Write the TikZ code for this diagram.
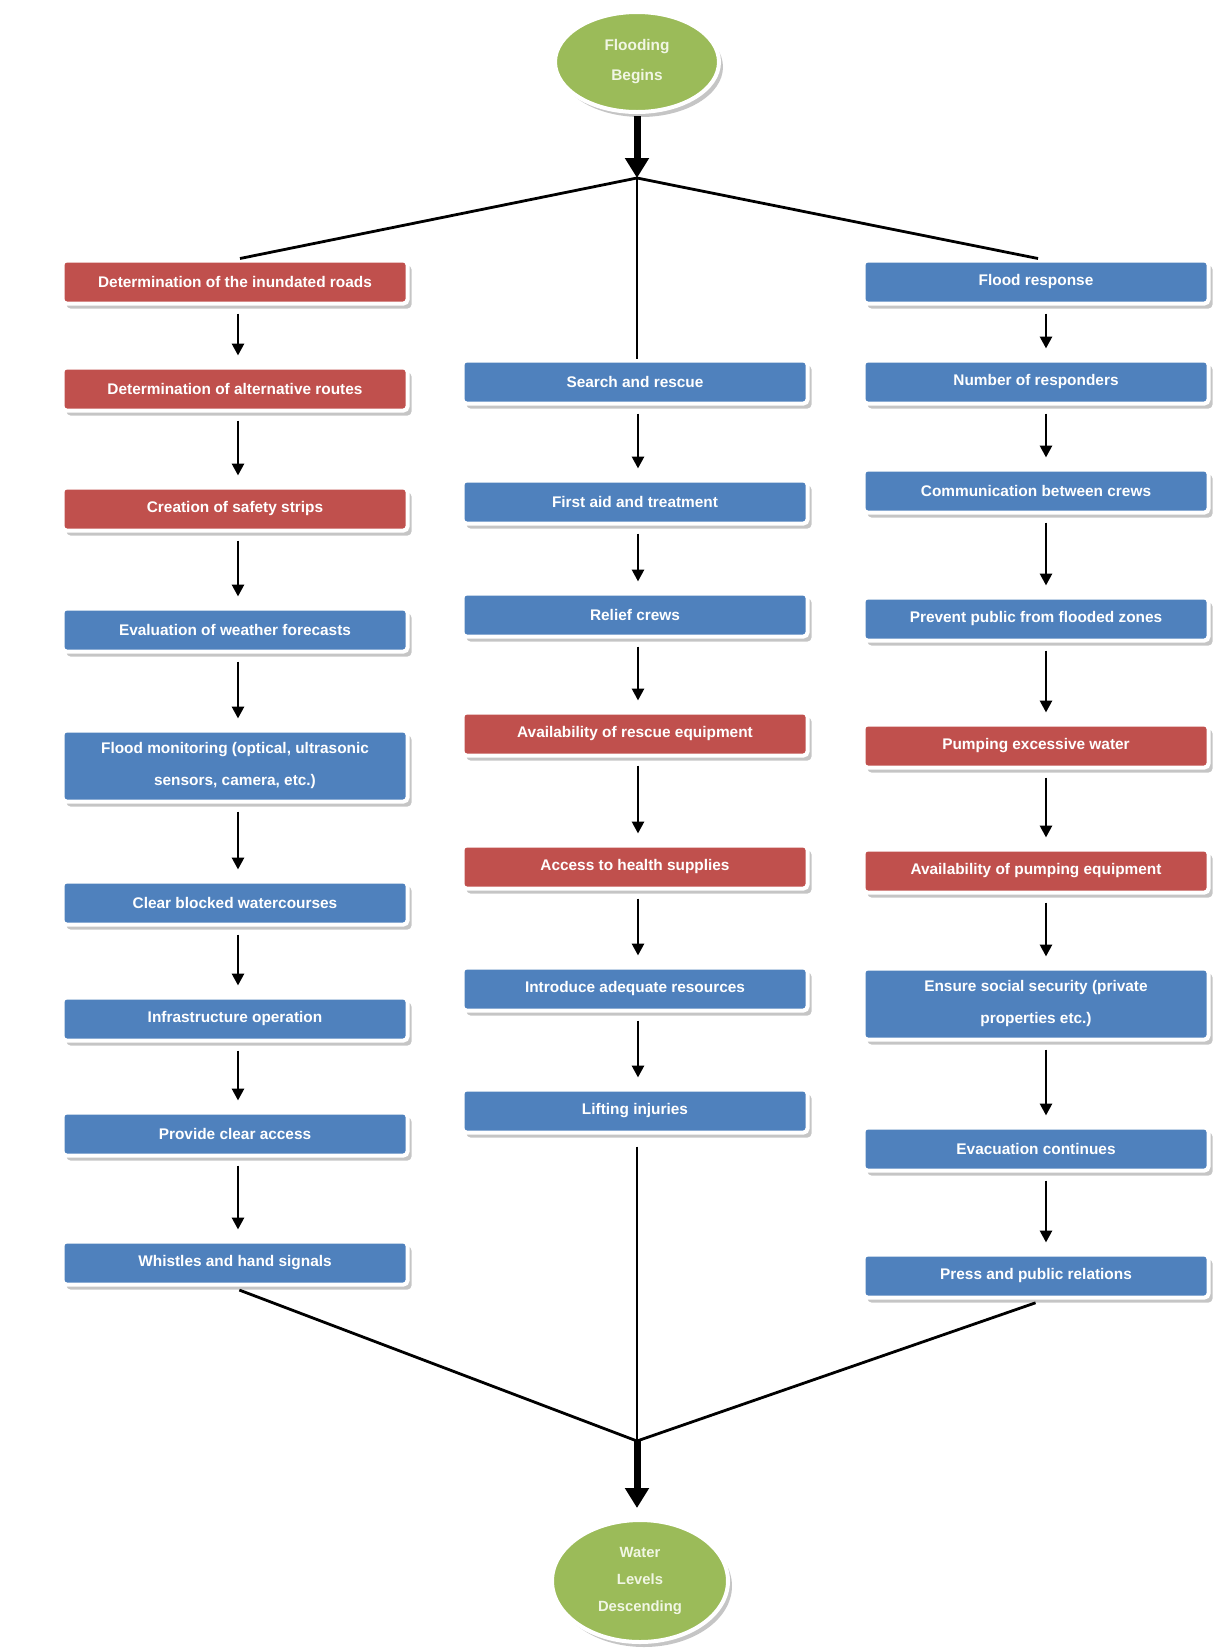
\documentclass[tikz,border=0pt]{standalone}
\usepackage{fontspec}
\setmainfont{Liberation Sans}
\usetikzlibrary{shapes.geometric,shadows,arrows.meta}
\definecolor{boxred}{HTML}{C0504D}
\definecolor{boxblue}{HTML}{4F81BD}
\definecolor{ovalgreen}{HTML}{9BBB59}
\definecolor{ovaltext}{HTML}{F1F6E4}
\begin{document}
\begin{tikzpicture}[x=0.5pt,y=-0.5pt,
  panel/.style={draw=white, line width=2pt, rounded corners=2pt, text=white,
    font=\bfseries\fontsize{7.7}{16}\selectfont, align=center, inner sep=0pt,
    minimum width=172.5pt, minimum height=21.5pt,
    drop shadow={shadow xshift=2pt, shadow yshift=-2.5pt, fill=black!45}},
  redbox/.style={panel, fill=boxred},
  bluebox/.style={panel, fill=boxblue},
  tall/.style={minimum height=35.5pt},
  oval/.style={ellipse, draw=white, line width=2pt, fill=ovalgreen, text=ovaltext,
    inner sep=0pt, align=center,
    drop shadow={shadow xshift=2pt, shadow yshift=-2.5pt, fill=black!45}},
  arr/.style={-{Triangle[width=6pt,length=6pt]}, line width=1.4pt,
    shorten <=4pt, shorten >=5pt},
  fat/.style={-{Triangle[width=11.5pt,length=10pt]}, line width=3.5pt},
  link/.style={line width=1.4pt}
]
\useasboundingbox (0,0) rectangle (1227,1650);

% start and end events
\node[oval, minimum width=82pt, minimum height=50pt,
      font=\bfseries\fontsize{7.7}{15}\selectfont] (start) at (637,62) {Flooding\\Begins};
\node[oval, minimum width=88pt, minimum height=61pt,
      font=\bfseries\fontsize{7.4}{13.5}\selectfont] (finish) at (640,1581) {Water\\Levels\\Descending};

% left column
\node[redbox]  (L1) at (235,282)  {Determination of the inundated roads};
\node[redbox]  (L2) at (235,389)  {Determination of alternative routes};
\node[redbox]  (L3) at (235,509)  {Creation of safety strips};
\node[bluebox] (L4) at (235,630)  {Evaluation of weather forecasts};
\node[bluebox, tall] (L5) at (235,766) {Flood monitoring (optical, ultrasonic\\sensors, camera, etc.)};
\node[bluebox] (L6) at (235,903)  {Clear blocked watercourses};
\node[bluebox] (L7) at (235,1019) {Infrastructure operation};
\node[bluebox] (L8) at (235,1134) {Provide clear access};
\node[bluebox] (L9) at (235,1263) {Whistles and hand signals};

% middle column
\node[bluebox] (M1) at (635,382)  {Search and rescue};
\node[bluebox] (M2) at (635,502)  {First aid and treatment};
\node[bluebox] (M3) at (635,615)  {Relief crews};
\node[redbox]  (M4) at (635,734)  {Availability of rescue equipment};
\node[redbox]  (M5) at (635,867)  {Access to health supplies};
\node[bluebox] (M6) at (635,989)  {Introduce adequate resources};
\node[bluebox] (M7) at (635,1111) {Lifting injuries};

% right column
\node[bluebox] (R1) at (1036,282)  {Flood response};
\node[bluebox] (R2) at (1036,382)  {Number of responders};
\node[bluebox] (R3) at (1036,491)  {Communication between crews};
\node[bluebox] (R4) at (1036,619)  {Prevent public from flooded zones};
\node[redbox]  (R5) at (1036,746)  {Pumping excessive water};
\node[redbox]  (R6) at (1036,871)  {Availability of pumping equipment};
\node[bluebox, tall] (R7) at (1036,1004) {Ensure social security (private\\properties etc.)};
\node[bluebox] (R8) at (1036,1149) {Evacuation continues};
\node[bluebox] (R9) at (1036,1276) {Press and public relations};

% branching at the top
\coordinate (split) at (637,178);
\draw[fat, shorten <=1pt] (start.south) -- (split);
\draw[link] (split) -- ([xshift=2.5pt]L1.north);
\draw[link] (split) -- ([xshift=1pt]R1.north);
\draw[link] (split) -- ([xshift=1pt]M1.north);

% flow within the columns
\foreach \a/\b in {L1/L2,L2/L3,L3/L4,L4/L5,L5/L6,L6/L7,L7/L8,L8/L9}
  \draw[arr] ([xshift=1.5pt]\a.south) -- ([xshift=1.5pt]\b.north);
\foreach \a/\b in {M1/M2,M2/M3,M3/M4,M4/M5,M5/M6,M6/M7}
  \draw[arr] ([xshift=1.5pt]\a.south) -- ([xshift=1.5pt]\b.north);
\foreach \a/\b in {R1/R2,R2/R3,R3/R4,R4/R5,R5/R6,R6/R7,R7/R8,R8/R9}
  \draw[arr] ([xshift=5pt]\a.south) -- ([xshift=5pt]\b.north);

% merging at the bottom
\coordinate (merge) at (637,1441);
\draw[link, shorten <=5pt] ([xshift=-2.5pt]L9.south) -- (merge);
\draw[link, shorten <=5pt] ([xshift=4.5pt]R9.south) -- (merge);
\draw[link, shorten <=6pt] ([xshift=1pt]M7.south) -- (merge);
\draw[fat, shorten >=5pt] (merge) -- (finish.north -| merge);
\end{tikzpicture}
\end{document}
